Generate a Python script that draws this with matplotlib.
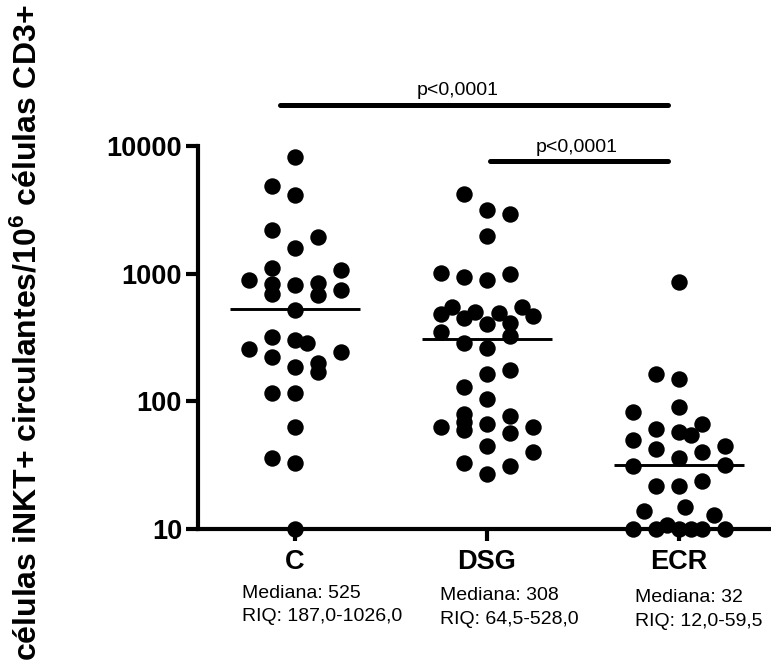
import matplotlib
matplotlib.use("Agg")
import matplotlib.pyplot as plt
import numpy as np

plt.rcParams['font.family'] = ['Liberation Sans', 'DejaVu Sans']
plt.rcParams['mathtext.fontset'] = 'custom'
plt.rcParams['mathtext.rm'] = 'Liberation Sans'
plt.rcParams['mathtext.bf'] = 'Liberation Sans:bold'
plt.rcParams['mathtext.it'] = 'Liberation Sans:italic'

# ---------------- data ----------------
categories = ["C", "DSG", "ECR"]

c_values = [8200, 4900, 4100, 2200, 1950, 1600, 1100, 1070, 900, 830, 810, 840,
            750, 690, 680, 520, 320, 305, 285, 257, 224, 242, 187, 199, 171,
            117, 117, 63, 36, 33, 10]
dsg_values = [4200, 3150, 2930, 1980, 1020, 935, 890, 990, 550, 483, 503, 447,
              494, 545, 468, 403, 408, 351, 326, 288, 260, 176, 164, 130, 104,
              80, 77, 69, 63, 67, 60, 63, 56, 45, 40, 33, 31, 27]
ecr_values = [865, 164, 150, 83, 90, 67, 61, 58, 54, 50, 45, 42, 40, 36, 31,
              32, 21.7, 21.7, 23.8, 13.9, 15, 12.9, 10, 10, 10.8, 10, 10, 10, 10]

medians = [525, 308, 32]
median_labels = ["Mediana: 525", "Mediana: 308", "Mediana: 32"]
iqr_labels = ["RIQ: 187,0-1026,0", "RIQ: 64,5-528,0", "RIQ: 12,0-59,5"]
y_ticks = [10, 100, 1000, 10000]
y_tick_labels = ["10", "100", "1000", "10000"]
p_labels = ["p<0,0001", "p<0,0001"]

# scatter layout: horizontal slot of each point (beeswarm columns)
c_slots = [0, -1, 0, -1, 1, 0, -1, 2, -2, -1, 0, 1, 2, -1, 1, 0, -1, 0, 0.5,
           -2, -1, 2, 0, 1, 1, -1, 0, 0, -1, 0, 0]
dsg_slots = [-1, 0, 1, 0, -2, -1, 0, 1, -1.5, -2, -0.5, -1, 0.5, 1.5, 2, 0, 1,
             -2, 1, -1, 0, 1, 0, -1, 0, -1, 1, -1, -2, 0, -1, 2, 1, 0, 2, -1,
             1, 0]
ecr_slots = [0, -1, 0, -2, 0, 1, -1, 0, 0.5, -2, 2, -1, 1, 0, -2, 2, -1, 0, 1,
             -1.5, 0.25, 1.5, -2, -1, -0.5, 0, 0.5, 1, 2]

groups = [c_values, dsg_values, ecr_values]
slots = [c_slots, dsg_slots, ecr_slots]

# ---------------- figure ----------------
W, H = 771, 663
fig = plt.figure(figsize=(W / 100, H / 100), dpi=100)
ax = fig.add_axes([198 / W, 134 / H, (W - 198) / W, (529 - 146) / H])

slot_w = 0.121
for i, (vals, sl) in enumerate(zip(groups, slots)):
    x = i + slot_w * np.asarray(sl, dtype=float)
    ax.scatter(x, vals, s=140, color="black", linewidths=0, zorder=3,
               clip_on=False)
    ax.hlines(medians[i], i - 0.338, i + 0.338, color="black", lw=2.1,
              zorder=4)

ax.set_yscale("log")
ax.set_ylim(10, 10000)
ax.set_xlim(-0.505, 2.479)
ax.set_yticks(y_ticks)
ax.set_yticklabels(y_tick_labels)
ax.yaxis.set_minor_locator(matplotlib.ticker.NullLocator())
ax.set_xticks(range(len(categories)))
ax.set_xticklabels(categories)

for s in ["top", "right"]:
    ax.spines[s].set_visible(False)
for s in ["left", "bottom"]:
    ax.spines[s].set_linewidth(3)
    ax.spines[s].set_zorder(2)

ax.tick_params(axis="both", which="major", length=8.5, width=3, direction="out",
               labelsize=19.5)
ax.tick_params(axis="y", pad=3)
ax.tick_params(axis="x", pad=6)
for lab in ax.get_xticklabels() + ax.get_yticklabels():
    lab.set_fontweight("bold")

# significance bars
trans = matplotlib.transforms.blended_transform_factory(ax.transData,
                                                        ax.transAxes)
bars = [(-0.078, 1.943, 1.107), (1.016, 1.943, 0.961)]
ptxt = [(0.849, 1.133), (1.469, 0.984)]
for (x0, x1, yb), (tx, ty), lab in zip(bars, ptxt, p_labels):
    ax.plot([x0, x1], [yb, yb], color="black", lw=3.6,
            solid_capstyle="round", transform=trans, clip_on=False)
    ax.text(tx, ty, lab, transform=trans, ha="center", va="baseline",
            fontsize=14)

# summary text beneath categories
txt_x = [241.7, 439.6, 635]
txt_y1 = [598, 600, 601.5]
txt_y2 = [621, 624, 626.5]
for i in range(3):
    fig.text(txt_x[i] / W, 1 - txt_y1[i] / H, median_labels[i], ha="left",
             va="baseline", fontsize=14)
    fig.text(txt_x[i] / W, 1 - txt_y2[i] / H, iqr_labels[i], ha="left",
             va="baseline", fontsize=14)

fig.text(28 / W, 1 - 333 / H,
         r"células iNKT+ circulantes/10$^{\mathbf{6}}$ células CD3+",
         rotation=90, ha="center", va="center", fontsize=23,
         fontweight="bold")

fig.savefig("out.png", dpi=100)
